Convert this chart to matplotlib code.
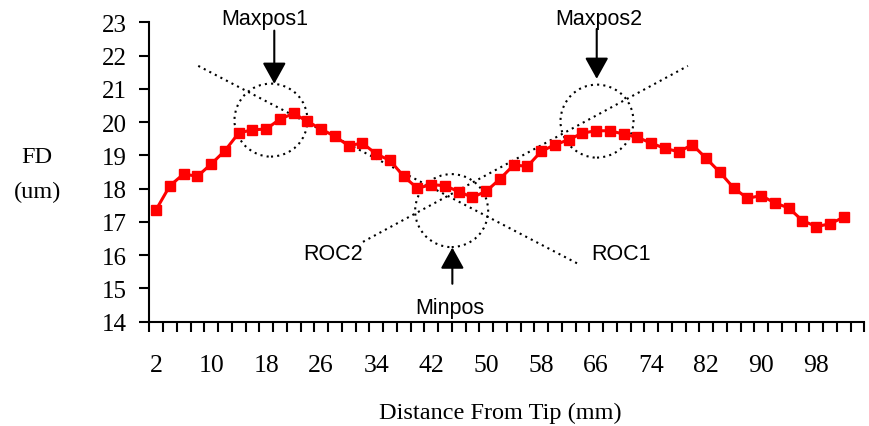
import matplotlib
matplotlib.use("Agg")
import matplotlib.pyplot as plt
from matplotlib.patches import Ellipse

# ---- data ----
distance = list(range(2, 103, 2))  # mm from tip
fd = [17.37, 18.09, 18.44, 18.37, 18.74, 19.14, 19.67, 19.77, 19.79, 20.09,
      20.26, 20.02, 19.79, 19.57, 19.29, 19.37, 19.04, 18.85, 18.37, 18.01,
      18.12, 18.09, 17.91, 17.74, 17.92, 18.29, 18.71, 18.67, 19.12, 19.32,
      19.47, 19.67, 19.74, 19.74, 19.64, 19.54, 19.37, 19.21, 19.11, 19.32,
      18.91, 18.49, 18.02, 17.71, 17.79, 17.57, 17.42, 17.04, 16.86, 16.94,
      17.14]
n_categories = 52
label_every = 4
y_ticks = list(range(14, 24))

serif = ["Liberation Serif", "DejaVu Serif"]
sans = ["Liberation Sans", "DejaVu Sans"]

W, H = 869, 427
fig = plt.figure(figsize=(W / 100, H / 100), dpi=100)
ax_l, ax_r, ax_t, ax_b = 149.3, 864.3, 23.3, 322.7
ax = fig.add_axes([ax_l / W, 1 - ax_b / H, (ax_r - ax_l) / W, (ax_b - ax_t) / H])

xi = list(range(len(distance)))
ax.plot(xi, fd, color="#ff0000", lw=2.2, marker="s", ms=7.2, mec="#ff0000",
        mfc="#ff0000", zorder=3, clip_on=False)

ax.set_xlim(-0.5, n_categories - 0.5)
ax.set_ylim(14, 23)

for s in ["top", "right"]:
    ax.spines[s].set_visible(False)
for s in ["left", "bottom"]:
    ax.spines[s].set_linewidth(1.5)
    ax.spines[s].set_color("black")

# y ticks
ax.set_yticks(y_ticks)
ax.set_yticklabels([str(v) for v in y_ticks], fontfamily=serif, fontsize=18)
ax.tick_params(axis="y", direction="out", length=7, width=1.5, pad=9)

# x ticks between categories, labels at category centers
ax.set_xticks([i - 0.5 for i in range(n_categories + 1)])
ax.set_xticklabels([])
ax.tick_params(axis="x", which="major", direction="out", length=7, width=1.5)
lab_pos = list(range(0, len(distance), label_every))
ax.set_xticks(lab_pos, minor=True)
ax.set_xticklabels([str(distance[i]) for i in lab_pos], minor=True,
                   fontfamily=serif, fontsize=18.5)
ax.tick_params(axis="x", which="minor", length=0, pad=23)

# axis titles
fig.text(500 / W, 1 - 419 / H, "Distance From Tip (mm)", ha="center",
         va="baseline", fontfamily=serif, fontsize=17.5)
fig.text(37.3 / W, 1 - 163.3 / H, "FD", ha="center", va="baseline",
         fontfamily=serif, fontsize=17.5)
fig.text(37.3 / W, 1 - 198.3 / H, "(um)", ha="center", va="baseline",
         fontfamily=serif, fontsize=17.5)

# ---- annotations ----
dot = (0, (1, 2))
# trend lines
ax.plot([3.06, 30.82], [21.69, 15.71], color="black", lw=1.5, ls=dot,
        zorder=2, clip_on=False)
ax.plot([15.04, 38.67], [16.40, 21.69], color="black", lw=1.5, ls=dot,
        zorder=2, clip_on=False)

# circles (radius ~36.5 px)
px_x = (ax_r - ax_l) / n_categories
px_y = (ax_b - ax_t) / 9
r = 36.5
for cx, cy in [(8.35, 20.06), (21.49, 17.34), (32.06, 20.03)]:
    ax.add_patch(Ellipse((cx, cy), 2 * r / px_x, 2 * r / px_y, fill=False,
                         ec="black", lw=1.5, ls=dot, zorder=2, clip_on=False))

arrowprops = dict(arrowstyle="-|>,head_length=0.65,head_width=0.36",
                  lw=1.5, color="black", mutation_scale=20,
                  shrinkA=0, shrinkB=0)
ax.annotate("", xy=(8.59, 21.15), xytext=(8.59, 22.75), arrowprops=arrowprops,
            annotation_clip=False)
ax.annotate("", xy=(32.04, 21.30), xytext=(32.04, 22.80), arrowprops=arrowprops,
            annotation_clip=False)
ax.annotate("", xy=(21.54, 16.23), xytext=(21.54, 15.14), arrowprops=arrowprops,
            annotation_clip=False)

tkw = dict(ha="center", va="center", fontfamily=sans, fontsize=15.5, clip_on=False)
ax.text(7.93, 23.10, "Maxpos1", **tkw)
ax.text(32.2, 23.10, "Maxpos2", **tkw)
ax.text(21.34, 14.43, "Minpos", **tkw)
ax.text(12.84, 16.04, "ROC2", **tkw)
ax.text(33.8, 16.04, "ROC1", **tkw)

fig.savefig("out.png", dpi=100)
